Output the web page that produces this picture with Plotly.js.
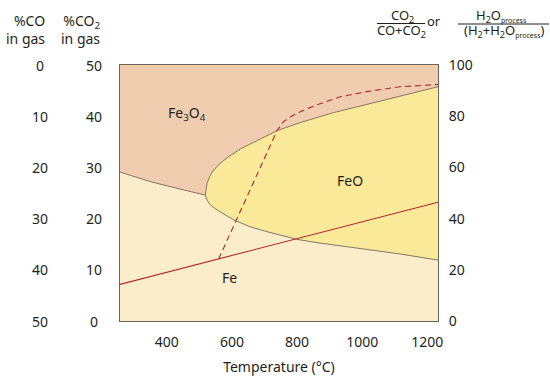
<!DOCTYPE html>
<html>
<head>
<meta charset="utf-8">
<script src="https://cdn.plot.ly/plotly-3.0.1.min.js"></script>
<style>html,body{margin:0;padding:0;background:#fff;}#chart{width:550px;height:380px;}</style>
</head>
<body>
<div id="chart"></div>
<script>
// ---- data ----
const tempTicks = [400, 600, 800, 1000, 1200];
const ratioTicks = [0, 20, 40, 60, 80, 100];
const coTicks = [0, 10, 20, 30, 40, 50];
const co2Ticks = [50, 40, 30, 20, 10, 0];
const tempRange = [256, 1233];

// Fe3O4 / Fe boundary (below triple point)
const magIronT = [256, 350, 451, 518];
const magIronV = [58.2, 54.4, 51.2, 49.2];
// FeO / Fe3O4 boundary
const wusUpperT = [518, 520, 523.5, 532.1, 544.3, 564.3, 588.8, 625.6, 656.3, 693.1, 739.1, 809.7, 911.8, 1014.3, 1116.4, 1233];
const wusUpperV = [49.2, 51.6, 53.8, 56.6, 59.0, 61.7, 64.1, 67.2, 69.1, 71.7, 74.4, 77.5, 81.4, 84.6, 87.9, 91.5];
// FeO / Fe boundary
const wusLowerT = [518, 523.5, 533.6, 554.2, 605.1, 656.3, 707.5, 799.6, 861, 912, 963, 1015, 1116, 1233];
const wusLowerV = [49.2, 47.3, 45.3, 43.4, 39.5, 36.8, 34.9, 31.9, 30.6, 29.7, 28.9, 28.0, 26.2, 23.8];
// H2 process line (solid red)
const h2T = [256, 1233];
const h2V = [14.3, 46.4];
// dashed red curve
const dashT = [559, 738.2, 758.5, 779, 799.6, 830, 860.9, 932.4, 1014.3, 1116.4, 1233];
const dashV = [24.2, 74.3, 77.9, 79.7, 81.1, 82.9, 84.4, 87.6, 89.6, 91.5, 92.4];

const phaseLabels = ['Fe<sub>3</sub>O<sub>4</sub>', 'FeO', 'Fe'];
const phaseT = [463, 963, 593];
const phaseV = [81.2, 54.7, 17];

// ---- styling ----
const FONT = 'Noto Sans, Open Sans, sans-serif';
const TXT = '#231f20';
const C_FE = '#fbedc9', C_MAG = '#f0cdae', C_WUS = '#fbe99a';
const C_BOUND = '#76695c', C_RED = '#b32631';

// polygons built from the boundary arrays
const magPolyT = magIronT.concat(wusUpperT.slice(1), [tempRange[1], tempRange[0]]);
const magPolyV = magIronV.concat(wusUpperV.slice(1), [100, 100]);
const wusPolyT = wusUpperT.concat(wusLowerT.slice().reverse());
const wusPolyV = wusUpperV.concat(wusLowerV.slice().reverse());

const traces = [
  {x: magPolyT, y: magPolyV, mode: 'lines', fill: 'toself', fillcolor: C_MAG, line: {width: 0}, hoverinfo: 'skip'},
  {x: wusPolyT, y: wusPolyV, mode: 'lines', fill: 'toself', fillcolor: C_WUS, line: {width: 0}, hoverinfo: 'skip'},
  {x: magIronT, y: magIronV, mode: 'lines', line: {color: C_BOUND, width: 0.9}},
  {x: wusUpperT, y: wusUpperV, mode: 'lines', line: {color: C_BOUND, width: 0.9}},
  {x: wusLowerT, y: wusLowerV, mode: 'lines', line: {color: C_BOUND, width: 0.9}},
  {x: h2T, y: h2V, mode: 'lines', line: {color: C_RED, width: 1.1}},
  {x: dashT, y: dashV, mode: 'lines', line: {color: C_RED, width: 1.1, dash: '6px,4px'}}
];

// pixel helpers for text outside the plot (plot area 120..438 x 65..321)
const PL = 120, PR = 438, PT = 65, PB = 321;
const px = x => (x - PL) / (PR - PL);
const py = y => (PB - y) / (PB - PT);
const fnt = s => ({family: FONT, size: s, color: TXT});

const ann = [];
phaseLabels.forEach((t, i) => ann.push({x: phaseT[i], y: phaseV[i], xref: 'x', yref: 'y', text: t, showarrow: false, xanchor: 'center', yanchor: 'middle', font: fnt(14)}));
coTicks.forEach(v => ann.push({x: px(40), y: 100 - 2 * v, xref: 'paper', yref: 'y', text: String(v), showarrow: false, xanchor: 'center', yanchor: 'middle', font: fnt(14)}));
co2Ticks.forEach(v => ann.push({x: px(94), y: 2 * v, xref: 'paper', yref: 'y', text: String(v), showarrow: false, xanchor: 'center', yanchor: 'middle', font: fnt(14)}));
ann.push({x: px(47), y: py(29), xref: 'paper', yref: 'paper', text: '%CO<br>in gas', align: 'right', xanchor: 'right', yanchor: 'middle', showarrow: false, font: fnt(14)});
ann.push({x: px(102), y: py(29), xref: 'paper', yref: 'paper', text: '%CO<sub>2</sub><br>in gas', align: 'right', xanchor: 'right', yanchor: 'middle', showarrow: false, font: fnt(14)});
const addHeader = (x, y, text) => ann.push({x: px(x), y: py(y), xref: 'paper', yref: 'paper', text: text, showarrow: false, xanchor: 'center', yanchor: 'middle', font: fnt(13)});
addHeader(402, 16, 'CO<sub>2</sub>');
addHeader(401, 31, 'CO+CO<sub>2</sub>');
addHeader(434, 21, 'or');
addHeader(501, 16, 'H<sub>2</sub>O<sub><span style="font-size:7px">process</span></sub>');
addHeader(504, 31, '(H<sub>2</sub>+H<sub>2</sub>O<sub><span style="font-size:7px">process</span></sub>)');

const layout = {
  width: 550, height: 380,
  margin: {l: PL, r: 550 - PR, t: PT, b: 380 - PB},
  paper_bgcolor: '#ffffff', plot_bgcolor: C_FE,
  showlegend: false,
  font: fnt(14),
  xaxis: {range: tempRange, tickvals: tempTicks, showgrid: false, zeroline: false,
          showline: true, mirror: true, linecolor: '#6d6458', linewidth: 1, ticks: '',
          ticklabelstandoff: 8, tickfont: fnt(14),
          title: {text: 'Temperature (°C)', font: fnt(14), standoff: 12}, fixedrange: true},
  yaxis: {range: [0, 100], tickvals: ratioTicks, side: 'right', showgrid: false, zeroline: false,
          showline: true, mirror: true, linecolor: '#6d6458', linewidth: 1, ticks: '',
          ticklabelstandoff: 7, tickfont: fnt(14), fixedrange: true},
  shapes: [
    {type: 'line', xref: 'paper', yref: 'paper', x0: px(377), x1: px(425), y0: py(23.5), y1: py(23.5), line: {color: TXT, width: 1}},
    {type: 'line', xref: 'paper', yref: 'paper', x0: px(458), x1: px(549), y0: py(24), y1: py(24), line: {color: TXT, width: 1}}
  ],
  annotations: ann
};

Plotly.newPlot('chart', traces, layout, {displayModeBar: false, staticPlot: true});
</script>
</body>
</html>
